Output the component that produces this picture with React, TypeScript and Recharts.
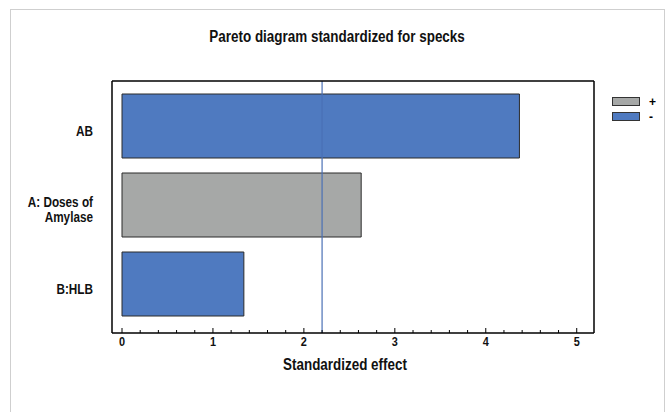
import React from 'react';
import { BarChart, Bar, XAxis, YAxis, Cell, ReferenceLine, Legend } from 'recharts';

const categories = ['AB', 'A: Doses of\nAmylase', 'B:HLB'];
const effects = [4.37, 2.63, 1.34];
const signs = ['-', '+', '-'];
const criticalValue = 2.2;
const majorTicks = [0, 1, 2, 3, 4, 5];
const allTicks = [
  0, 0.2, 0.4, 0.6, 0.8, 1, 1.2, 1.4, 1.6, 1.8, 2, 2.2, 2.4, 2.6, 2.8, 3,
  3.2, 3.4, 3.6, 3.8, 4, 4.2, 4.4, 4.6, 4.8, 5,
];
const legendSigns = ['+', '-'];
const signColors: Record<string, string> = { '+': '#A6A8A7', '-': '#4F7AC0' };

const data = categories.map((name, i) => ({ name, value: effects[i], sign: signs[i] }));

const FONT = '"Liberation Sans", Arial, sans-serif';
const SQUEEZE = 0.84;

const BottomTick = (props: any) => {
  const { x, y, payload } = props;
  const major = majorTicks.includes(payload.value);
  return (
    <g>
      <line x1={x} x2={x} y1={y} y2={y - (major ? 5 : 3)} stroke="#000" strokeWidth={1} />
      {major && (
        <g transform={`translate(${x},${y + 13}) scale(${SQUEEZE},1)`}>
          <text x={0} y={0} textAnchor="middle" fontFamily={FONT} fontWeight="bold" fontSize={13} fill="#111">
            {payload.value}
          </text>
        </g>
      )}
    </g>
  );
};

const TopTick = (props: any) => {
  const { x, y, payload } = props;
  const major = majorTicks.includes(payload.value);
  return <line x1={x} x2={x} y1={y} y2={y + (major ? 5 : 3)} stroke="#000" strokeWidth={1} />;
};

const CatTick = (props: any) => {
  const { x, y, payload } = props;
  const lines = String(payload.value).split('\n');
  const lh = 16;
  const y0 = -((lines.length - 1) * lh) / 2 + 10;
  return (
    <g transform={`translate(${x},${y}) scale(${SQUEEZE},1)`}>
      <text x={0} y={y0} textAnchor="end" fontFamily={FONT} fontWeight="bold" fontSize={14} fill="#111">
        {lines.map((l, i) => (
          <tspan key={i} x={0} y={y0 + i * lh}>
            {l}
          </tspan>
        ))}
      </text>
    </g>
  );
};

const AxisTitle = (props: any) => {
  const vb = props.viewBox || {};
  const cx = vb.x + vb.width / 2 - 8;
  const cy = vb.y + 37;
  return (
    <g transform={`translate(${cx},${cy}) scale(${SQUEEZE},1)`}>
      <text x={0} y={0} textAnchor="middle" fontFamily={FONT} fontWeight="bold" fontSize={16} fill="#111">
        Standardized effect
      </text>
    </g>
  );
};

const LegendContent = () => (
  <div style={{ fontFamily: FONT, fontWeight: 'bold', fontSize: 12 }}>
    {legendSigns.map((s) => (
      <div key={s} style={{ display: 'flex', alignItems: 'center', height: 15 }}>
        <div
          style={{
            width: 28,
            height: 9,
            background: signColors[s],
            border: '1px solid #333',
            boxSizing: 'border-box',
            marginRight: 9,
          }}
        />
        <span>{s}</span>
      </div>
    ))}
  </div>
);

export default function App() {
  return (
    <div style={{ position: 'absolute', left: 0, top: 0, width: 672, height: 412, background: '#fff', overflow: 'hidden' }}>
      <div
        style={{
          position: 'absolute',
          left: 10,
          top: 9,
          width: 653,
          height: 430,
          border: '1px solid #cfcfcf',
        }}
      />
      <div
        style={{
          position: 'absolute',
          left: 10,
          width: 654,
          top: 28,
          textAlign: 'center',
          fontFamily: FONT,
          fontWeight: 'bold',
          fontSize: 16,
          color: '#111',
        }}
      >
        <span style={{ display: 'inline-block', transform: `scaleX(${SQUEEZE})` }}>
          Pareto diagram standardized for specks
        </span>
      </div>
      <div style={{ position: 'absolute', left: 0, top: 0 }}>
        <BarChart
          width={672}
          height={412}
          data={data}
          layout="vertical"
          margin={{ top: 80, right: 77, bottom: 29, left: 10 }}
          barSize={64}
        >
          <XAxis
            xAxisId="bottom"
            type="number"
            domain={[-0.11, 5.19]}
            ticks={allTicks}
            interval={0}
            tick={<BottomTick />}
            tickLine={false}
            tickSize={0}
            tickMargin={0}
            height={50}
            axisLine={{ stroke: '#000', strokeWidth: 1.5 }}
            label={<AxisTitle />}
          />
          <XAxis
            xAxisId="top"
            orientation="top"
            type="number"
            domain={[-0.11, 5.19]}
            ticks={allTicks}
            interval={0}
            tick={<TopTick />}
            tickLine={false}
            tickSize={0}
            tickMargin={0}
            height={1}
            axisLine={{ stroke: '#000', strokeWidth: 1.5 }}
          />
          <YAxis
            yAxisId="left"
            type="category"
            dataKey="name"
            width={102}
            tick={<CatTick />}
            tickLine={false}
            tickSize={0}
            tickMargin={19}
            padding={{ top: 5, bottom: 10 }}
            axisLine={{ stroke: '#000', strokeWidth: 1.5 }}
          />
          <YAxis
            yAxisId="right"
            orientation="right"
            type="category"
            dataKey="name"
            width={1}
            tick={false}
            tickLine={false}
            axisLine={{ stroke: '#000', strokeWidth: 1.5 }}
          />
          <Legend
            layout="vertical"
            align="center"
            verticalAlign="middle"
            content={<LegendContent />}
            wrapperStyle={{ position: 'absolute', left: 612, top: 94, width: 60 }}
          />
          <Bar
            dataKey="value"
            xAxisId="bottom"
            yAxisId="left"
            stroke="#2b2b2b"
            strokeWidth={1}
            isAnimationActive={false}
          >
            {data.map((d, i) => (
              <Cell key={i} fill={signColors[d.sign]} />
            ))}
          </Bar>
          <ReferenceLine
            x={criticalValue}
            xAxisId="bottom"
            yAxisId="left"
            stroke="#4A6FB5"
            strokeWidth={1.2}
          />
        </BarChart>
      </div>
    </div>
  );
}
